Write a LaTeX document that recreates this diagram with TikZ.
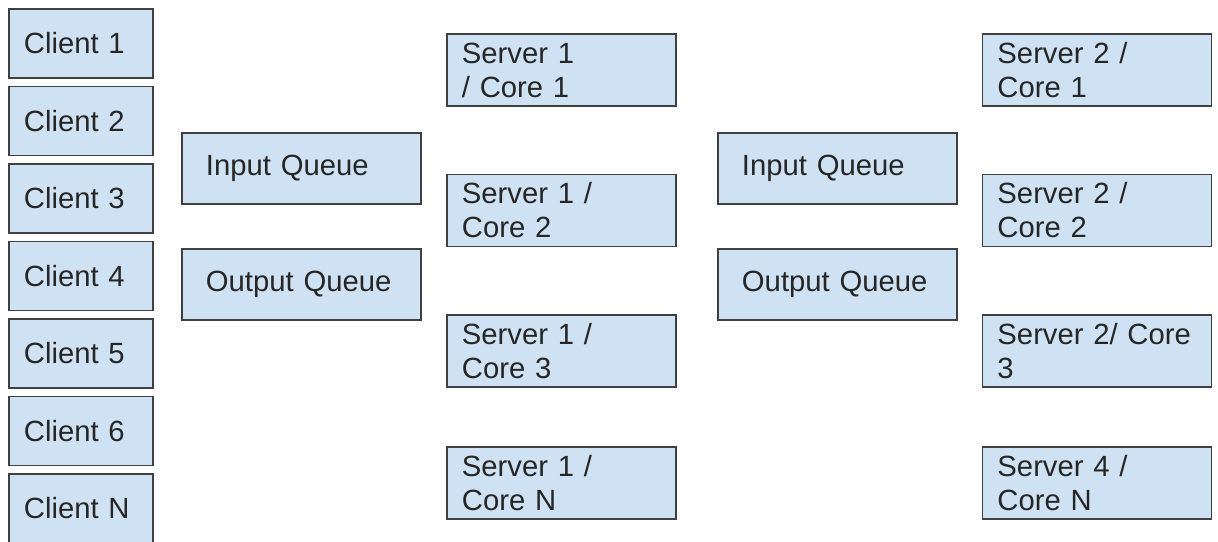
\documentclass[tikz,border=0pt]{standalone}
\usepackage{fontspec}
\setmainfont{Liberation Sans}
\usepackage{tikz}
\definecolor{boxblue}{HTML}{CFE2F3}
\definecolor{boxline}{HTML}{404040}

\begin{document}
\begin{tikzpicture}[x=0.025cm, y=-0.025cm,
  every node/.style={align=left, font=\fontsize{20.8}{24.2}\selectfont, text=black!85},
  box/.style={draw=boxline, fill=boxblue, line width=1pt, rectangle, inner ysep=0pt},
  client/.style={box, text width=2.85cm, inner xsep=0.375cm, minimum height=1.725cm},
  queue/.style={box, text width=4.775cm, inner xsep=0.6cm, minimum height=1.775cm},
  core/.style={box, text width=4.975cm, inner xsep=0.375cm, minimum height=1.8cm}]
\clip (0,0) rectangle (1218,541);
%================================================================
%	Clients
\node[style=client] (c1) at (81,43.5) {Client 1};
\node[style=client] (c2) at (81,121) {Client 2};
\node[style=client] (c3) at (81,198.5) {Client 3};
\node[style=client] (c4) at (81,276) {Client 4};
\node[style=client] (c5) at (81,353.5) {Client 5};
\node[style=client] (c6) at (81,431) {Client 6};
\node[style=client] (c7) at (81,508.5) {Client N};
%================================================================
%	Queues
\node[style=queue] (q1) at (301.5,168.5) {Input Queue};
\node[style=queue] (q2) at (301.5,284.5) {Output Queue};
%----------------------------------------------------------------
\node[style=queue] (q3) at (837.5,168.5) {Input Queue};
\node[style=queue] (q4) at (837.5,284.5) {Output Queue};
%================================================================
%	Cores
\node[style=core] (s1) at (561.5,70) {Server 1\\/ Core 1};
\node[style=core] (s2) at (561.5,210.5) {Server 1 /\\Core 2};
\node[style=core] (s3) at (561.5,351) {Server 1 /\\Core 3};
\node[style=core] (s4) at (561.5,483) {Server 1 /\\Core N};
%----------------------------------------------------------------
\node[style=core] (t1) at (1097,70) {Server 2 /\\Core 1};
\node[style=core] (t2) at (1097,210.5) {Server 2 /\\Core 2};
\node[style=core] (t3) at (1097,351) {Server 2/ Core\\3};
\node[style=core] (t4) at (1097,483) {Server 4 /\\Core N};
%================================================================
\end{tikzpicture}
\end{document}
